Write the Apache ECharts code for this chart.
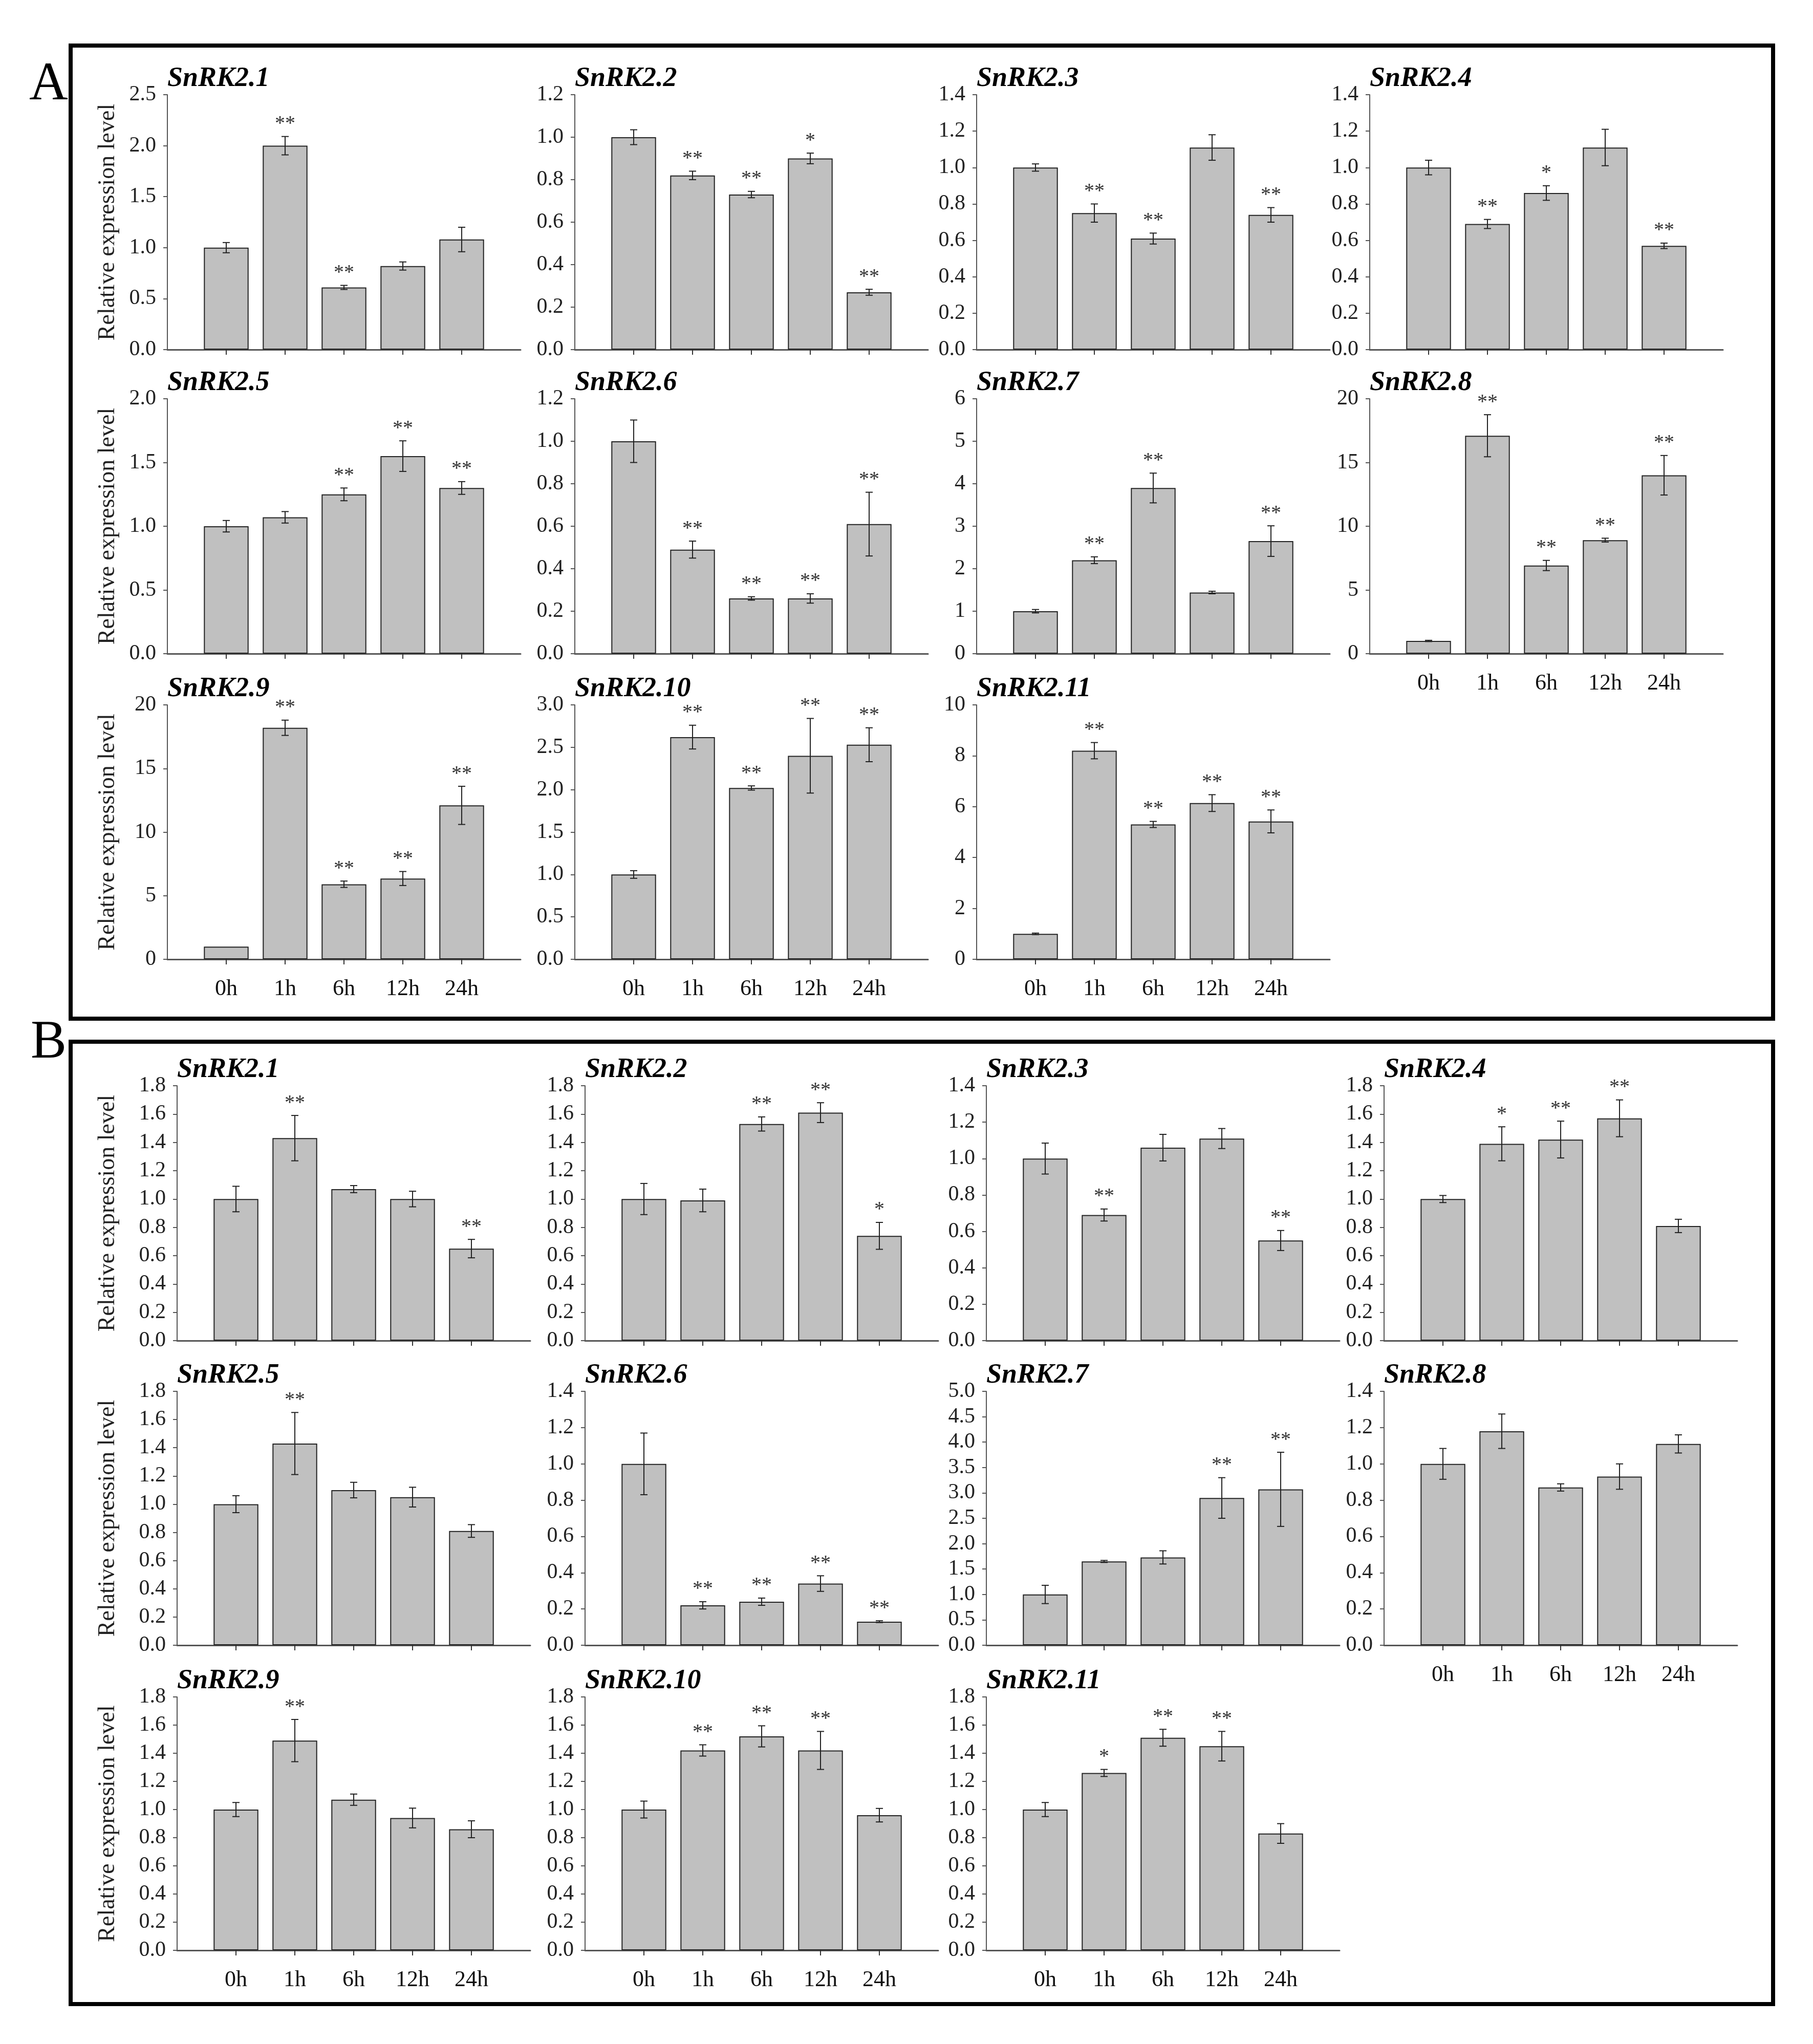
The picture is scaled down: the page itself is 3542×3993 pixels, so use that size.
<!DOCTYPE html>
<html>
<head>
<meta charset="utf-8">
<script src="https://cdn.jsdelivr.net/npm/echarts@6/dist/echarts.min.js"></script>
<style>
html,body{margin:0;padding:0;background:#fff;}
#chart{width:3542px;height:3993px;}
</style>
</head>
<body>
<div id="chart"></div>
<script>
// ---------------- DATA ----------------
const timePoints = ['0h', '1h', '6h', '12h', '24h'];
const genes = ['SnRK2.1','SnRK2.2','SnRK2.3','SnRK2.4','SnRK2.5','SnRK2.6','SnRK2.7','SnRK2.8','SnRK2.9','SnRK2.10','SnRK2.11'];

// Panel A
const meanA = [
  [1.00, 2.00, 0.61, 0.82, 1.08],
  [1.00, 0.82, 0.73, 0.90, 0.27],
  [1.00, 0.75, 0.61, 1.11, 0.74],
  [1.00, 0.69, 0.86, 1.11, 0.57],
  [1.00, 1.07, 1.25, 1.55, 1.30],
  [1.00, 0.49, 0.26, 0.26, 0.61],
  [1.00, 2.20, 3.90, 1.44, 2.65],
  [1.00, 17.1, 6.92, 8.91, 14.0],
  [1.00, 18.2, 5.90, 6.35, 12.1],
  [1.00, 2.62, 2.02, 2.40, 2.53],
  [1.00, 8.20, 5.30, 6.14, 5.42]
];
const errA = [
  [0.05, 0.09, 0.02, 0.04, 0.12],
  [0.035, 0.02, 0.015, 0.025, 0.014],
  [0.02, 0.05, 0.03, 0.07, 0.04],
  [0.04, 0.025, 0.04, 0.10, 0.015],
  [0.045, 0.045, 0.05, 0.12, 0.05],
  [0.10, 0.04, 0.008, 0.022, 0.15],
  [0.04, 0.08, 0.35, 0.03, 0.36],
  [0.05, 1.65, 0.40, 0.15, 1.55],
  [0.0, 0.60, 0.25, 0.55, 1.50],
  [0.045, 0.14, 0.025, 0.44, 0.20],
  [0.03, 0.32, 0.12, 0.33, 0.45]
];
const starsA = [
  ['', '**', '**', '', ''],
  ['', '**', '**', '*', '**'],
  ['', '**', '**', '', '**'],
  ['', '**', '*', '', '**'],
  ['', '', '**', '**', '**'],
  ['', '**', '**', '**', '**'],
  ['', '**', '**', '', '**'],
  ['', '**', '**', '**', '**'],
  ['', '**', '**', '**', '**'],
  ['', '**', '**', '**', '**'],
  ['', '**', '**', '**', '**']
];
const yMaxA  = [2.5, 1.2, 1.4, 1.4, 2.0, 1.2, 6, 20, 20, 3.0, 10];
const yStepA = [0.5, 0.2, 0.2, 0.2, 0.5, 0.2, 1, 5, 5, 0.5, 2];
const yDecA  = [1, 1, 1, 1, 1, 1, 0, 0, 0, 1, 0];

// Panel B
const meanB = [
  [1.00, 1.43, 1.07, 1.00, 0.65],
  [1.00, 0.99, 1.53, 1.61, 0.74],
  [1.00, 0.69, 1.06, 1.11, 0.55],
  [1.00, 1.39, 1.42, 1.57, 0.81],
  [1.00, 1.43, 1.10, 1.05, 0.81],
  [1.00, 0.22, 0.24, 0.34, 0.13],
  [1.00, 1.65, 1.73, 2.90, 3.07],
  [1.00, 1.18, 0.87, 0.93, 1.11],
  [1.00, 1.49, 1.07, 0.94, 0.86],
  [1.00, 1.42, 1.52, 1.42, 0.96],
  [1.00, 1.26, 1.51, 1.45, 0.83]
];
const errB = [
  [0.09, 0.16, 0.025, 0.055, 0.065],
  [0.11, 0.08, 0.05, 0.07, 0.095],
  [0.085, 0.033, 0.073, 0.055, 0.055],
  [0.025, 0.12, 0.13, 0.13, 0.047],
  [0.06, 0.22, 0.055, 0.07, 0.045],
  [0.17, 0.02, 0.02, 0.043, 0.005],
  [0.18, 0.02, 0.13, 0.40, 0.73],
  [0.085, 0.095, 0.02, 0.07, 0.05],
  [0.05, 0.15, 0.04, 0.07, 0.06],
  [0.06, 0.04, 0.075, 0.135, 0.048],
  [0.05, 0.025, 0.06, 0.105, 0.07]
];
const starsB = [
  ['', '**', '', '', '**'],
  ['', '', '**', '**', '*'],
  ['', '**', '', '', '**'],
  ['', '*', '**', '**', ''],
  ['', '**', '', '', ''],
  ['', '**', '**', '**', '**'],
  ['', '', '', '**', '**'],
  ['', '', '', '', ''],
  ['', '**', '', '', ''],
  ['', '**', '**', '**', ''],
  ['', '*', '**', '**', '']
];
const yMaxB  = [1.8, 1.8, 1.4, 1.8, 1.8, 1.4, 5.0, 1.4, 1.8, 1.8, 1.8];
const yStepB = [0.2, 0.2, 0.2, 0.2, 0.2, 0.2, 0.5, 0.2, 0.2, 0.2, 0.2];
const yDecB  = [1, 1, 1, 1, 1, 1, 1, 1, 1, 1, 1];

const yAxisTitle = 'Relative expression level';

// ---------------- LAYOUT ----------------
const layoutA = { lefts: [327, 1123, 1908, 2676], tops: [185, 779, 1377], bottoms: [683, 1277, 1874] };
const layoutB = { lefts: [346, 1143, 1927, 2704], tops: [2121, 2718, 3315], bottoms: [2619, 3214, 3810] };
const gridW = 690;
const serif = '"Liberation Serif", "Times New Roman", serif';

const option = {
  backgroundColor: '#fff',
  animation: false,
  title: [], grid: [], xAxis: [], yAxis: [], series: [],
  graphic: [
    { type: 'rect', shape: { x: 138, y: 89, width: 3326, height: 1901 }, style: { fill: 'none', stroke: '#000', lineWidth: 8 } },
    { type: 'rect', shape: { x: 138, y: 2035, width: 3326, height: 1880 }, style: { fill: 'none', stroke: '#000', lineWidth: 8 } },
    { type: 'text', x: 57, y: 114, style: { text: 'A', font: '105px ' + serif, fill: '#000' } },
    { type: 'text', x: 60, y: 1986, style: { text: 'B', font: '105px ' + serif, fill: '#000' } }
  ]
};

function addSection(layout, means, errs, stars, yMax, yStep, yDec) {
  for (let i = 0; i < genes.length; i++) {
    const row = Math.floor(i / 4), col = i % 4;
    const idx = option.grid.length;
    const left = layout.lefts[col], top = layout.tops[row];
    const height = layout.bottoms[row] - top;
    option.grid.push({ left: left, top: top, width: gridW, height: height, containLabel: false });
    option.title.push({
      text: genes[i], left: left, top: top - 58, padding: 0,
      textStyle: { fontFamily: serif, fontStyle: 'italic', fontWeight: 'bold', fontSize: 54, color: '#000' }
    });
    const showX = (row === 2 || i === 7);
    option.xAxis.push({
      type: 'category', gridIndex: idx, boundaryGap: false,
      data: [''].concat(timePoints, ['']),
      axisLine: { show: true, lineStyle: { color: '#555', width: 3 } },
      axisTick: { show: true, length: 10, interval: function (k) { return k > 0 && k < 6; }, lineStyle: { color: '#333', width: 2 } },
      axisLabel: { show: showX, interval: 0, margin: 36, fontFamily: serif, fontSize: 44, color: '#111' },
      splitLine: { show: false }
    });
    const dec = yDec[i];
    option.yAxis.push({
      type: 'value', gridIndex: idx, min: 0, max: yMax[i], interval: yStep[i],
      axisLine: { show: true, lineStyle: { color: '#555', width: 2 } },
      axisTick: { show: true, length: 8, lineStyle: { color: '#555', width: 2 } },
      splitLine: { show: false },
      axisLabel: { margin: 22, fontFamily: serif, fontSize: 42, color: '#222',
        formatter: function (v) { return v.toFixed(dec); } },
      name: col === 0 ? yAxisTitle : '',
      nameLocation: 'middle', nameGap: left - 234,
      nameTextStyle: { fontFamily: serif, fontSize: 46, color: '#222' }
    });
    option.series.push({
      type: 'bar', xAxisIndex: idx, yAxisIndex: idx, silent: true,
      data: ['-'].concat(means[i], ['-']),
      barWidth: '76%',
      itemStyle: { color: '#c0c0c0', borderColor: '#222', borderWidth: 2 }
    });
    const st = stars[i];
    option.series.push({
      type: 'custom', xAxisIndex: idx, yAxisIndex: idx, silent: true, z: 10,
      data: means[i].map(function (m, k) { return [k + 1, m, errs[i][k]]; }),
      encode: { x: 0, y: 1 },
      renderItem: function (params, api) {
        const x = api.value(0), m = api.value(1), e = api.value(2);
        const pt = api.coord([x, m + e]);
        const pb = api.coord([x, m - e]);
        const cap = 7;
        const sty = { stroke: '#222', lineWidth: 2 };
        const children = [];
        if (e > 0) {
          children.push({ type: 'line', shape: { x1: pt[0], y1: pt[1], x2: pb[0], y2: pb[1] }, style: sty });
          children.push({ type: 'line', shape: { x1: pt[0] - cap, y1: pt[1], x2: pt[0] + cap, y2: pt[1] }, style: sty });
          children.push({ type: 'line', shape: { x1: pb[0] - cap, y1: pb[1], x2: pb[0] + cap, y2: pb[1] }, style: sty });
        }
        const s = st[params.dataIndex];
        if (s) {
          children.push({ type: 'text', x: pt[0], y: pt[1] - 4,
            style: { text: s, font: '40px ' + serif, fill: '#333', align: 'center', verticalAlign: 'bottom' } });
        }
        return { type: 'group', children: children };
      }
    });
  }
}

addSection(layoutA, meanA, errA, starsA, yMaxA, yStepA, yDecA);
addSection(layoutB, meanB, errB, starsB, yMaxB, yStepB, yDecB);

const chart = echarts.init(document.getElementById('chart'), null, { renderer: 'canvas' });
chart.setOption(option);
</script>
</body>
</html>
